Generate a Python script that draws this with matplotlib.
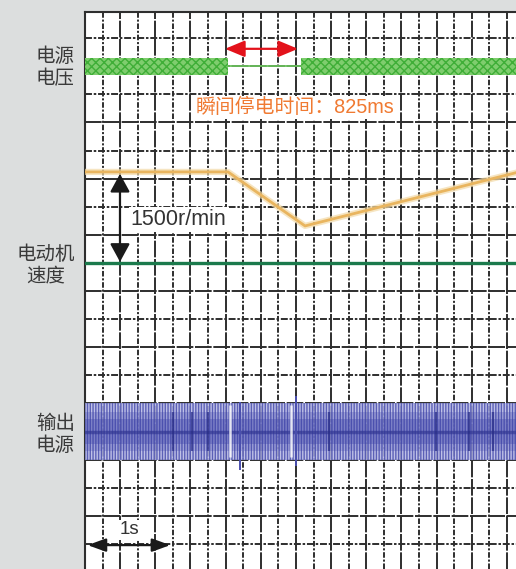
import numpy as np
import matplotlib.pyplot as plt

plt.rcParams['font.family'] = ['Liberation Sans', 'Noto Sans CJK SC']
plt.rcParams['lines.scale_dashes'] = False
plt.rcParams['hatch.linewidth'] = 1.0

# time in seconds (0.2 s per grid column), vertical in grid divisions
t_max = 4.903
y_lo, y_hi = -0.89, 18.93
grid_t = np.arange(0, 25) * 0.2
grid_y = np.arange(0, 19)

# supply voltage channel
volt_y = 17.0
volt_amp = 0.30
volt_on = [(0.0, 1.627), (2.452, 4.903)]
cut_t = [1.627, 2.452]

# motor speed channel
speed_t = [0.0, 1.627, 2.503, 4.903]
speed_rpm = [1500, 1500, 610, 1487]
speed_zero_y = 10.0
rpm_per_div = 463.0

# output channel
out_y = 4.0
out_amp = 1.0
out_core = 0.45
out_dark_t = [1.00, 1.22, 1.40, 2.78, 3.99, 4.37, 4.64]
out_spike_t = [1.76, 2.40]
out_spike_lo = [2.63, 2.78]
out_spike_hi = [5.05, 5.27]
out_gap_t = [1.65, 2.34]

fig = plt.figure(figsize=(5.16, 5.69), dpi=100, facecolor='#dcdede')
ax = fig.add_axes([85 / 516, 0, 1 - 85 / 516, 1 - 12 / 569])
ax.set_facecolor('white')
ax.set_xlim(0, t_max)
ax.set_ylim(y_lo, y_hi)
ax.set_xticks([])
ax.set_yticks([])
for s in ['right', 'bottom']:
    ax.spines[s].set_visible(False)
for s in ['left', 'top']:
    ax.spines[s].set_color('#2e2e2e')
    ax.spines[s].set_linewidth(1.5)

# grid
gcol = '#2e2e2e'
for k, t in enumerate(grid_t[1:], start=1):
    if k % 2 == 0:
        ax.axvline(t, color=gcol, lw=1.4, ls=(0, (12, 1.2)), zorder=1)
    else:
        ax.axvline(t, color=gcol, lw=1.4, ls=(0, (4, 1.3, 1.5, 1.3)), zorder=1)
for k, y in enumerate(grid_y):
    if k % 2 == 0:
        ax.axhline(y, color=gcol, lw=1.4, ls=(0, (5, 1.3, 1.8, 1.3)), zorder=1)
    else:
        ax.axhline(y, color=gcol, lw=1.4, ls=(0, (12, 1.2)), zorder=1)

# supply voltage
for t0, t1 in volt_on:
    with plt.rc_context({'hatch.color': '#3fae37'}):
        ax.fill_between([t0, t1], volt_y - volt_amp, volt_y + volt_amp,
                        facecolor='#7fcd6e', edgecolor='#3fae37', hatch='xxxx',
                        lw=0, zorder=3)
ax.plot(cut_t, [volt_y, volt_y], color='#6cc25e', lw=1.3, zorder=3)

# motor speed
speed_y = speed_zero_y + np.array(speed_rpm) / rpm_per_div
ax.plot(speed_t, speed_y, color='#f3dba8', lw=4.5, alpha=0.7, zorder=3,
        solid_joinstyle='round')
ax.plot(speed_t, speed_y, color='#e9b55f', lw=2.0, zorder=4, solid_joinstyle='round')
ax.axhline(speed_zero_y, color='#1b7a4c', lw=2.4, zorder=4)

# output
with plt.rc_context({'hatch.color': '#4a4fae'}):
    ax.fill_between([0, t_max], out_y - out_amp, out_y + out_amp,
                    facecolor='#b4b7e3', edgecolor='#4a4fae', hatch='||||||',
                    lw=0, alpha=0.85, zorder=3)
ax.fill_between([0, t_max], out_y - 0.7, out_y + 0.7,
                color='#3e43a8', alpha=0.25, lw=0, zorder=4)
ax.fill_between([0, t_max], out_y - out_core, out_y + out_core,
                color='#3e43a8', alpha=0.35, lw=0, zorder=4)
ax.plot([0, t_max], [out_y, out_y], color='#2d3290', lw=2.5, alpha=0.6, zorder=4)
ax.vlines(out_dark_t, out_y - 0.7, out_y + 0.7, color='#262b85', lw=1.2, alpha=0.8, zorder=4)
ax.vlines(out_spike_t, out_spike_lo, out_spike_hi, color='#4a4fae', lw=1.4, zorder=4)
ax.vlines(out_gap_t, out_y - 0.9, out_y + 0.95, color='white', lw=1.8, alpha=0.8, zorder=5)

# annotations
ax.annotate('', xy=(2.423, 17.62), xytext=(1.593, 17.62),
            arrowprops=dict(arrowstyle='<|-|>,head_length=0.6,head_width=0.25',
                            color='#e3121b', lw=1.6, mutation_scale=20,
                            shrinkA=0, shrinkB=0), zorder=6)
ax.text(2.39, 15.52, '瞬间停电时间：825ms', color='#f07a32', fontsize=14.3,
        ha='center', va='center', zorder=6,
        bbox=dict(facecolor='white', edgecolor='none', pad=1.5))

ax.annotate('', xy=(0.398, 13.17), xytext=(0.398, 10.04),
            arrowprops=dict(arrowstyle='<|-|>,head_length=0.55,head_width=0.3',
                            color='#1a1a1a', lw=1.6, mutation_scale=20,
                            shrinkA=0, shrinkB=0), zorder=6)
ax.text(0.52, 11.55, '1500r/min', color='#333333', fontsize=15.5,
        ha='left', va='center', zorder=6,
        bbox=dict(facecolor='white', edgecolor='none', pad=1.5))

ax.annotate('', xy=(0.97, -0.04), xytext=(0.03, -0.04),
            arrowprops=dict(arrowstyle='<|-|>,head_length=0.55,head_width=0.2',
                            color='#1a1a1a', lw=1.6, mutation_scale=20,
                            shrinkA=0, shrinkB=0), zorder=6)
ax.text(0.5, 0.5, '1s', color='#333333', fontsize=13.5,
        ha='center', va='center', zorder=6,
        bbox=dict(facecolor='white', edgecolor='none', pad=1.0))

# channel labels
lab_kw = dict(fontsize=14, color='#3a3a3a', ha='right', va='center',
              multialignment='center', linespacing=1.25)
fig.text(75 / 516, 1 - 68 / 569, '电源\n电压', **lab_kw)
fig.text(75 / 516, 1 - 265 / 569, '电动机\n速度', **lab_kw)
fig.text(75 / 516, 1 - 435 / 569, '输出\n电源', **lab_kw)

fig.savefig('out.png', dpi=100, facecolor=fig.get_facecolor())
